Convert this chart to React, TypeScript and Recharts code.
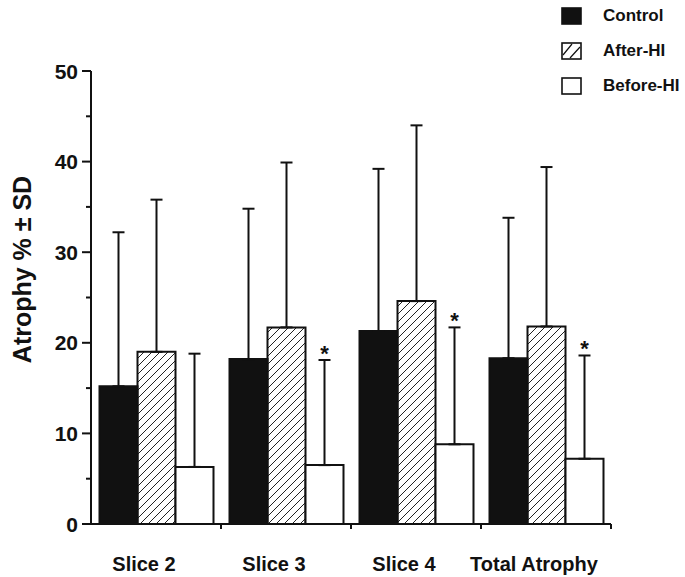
import { Bar, ComposedChart, ErrorBar, LabelList, Legend, XAxis, YAxis } from "recharts";

const categories = ["Slice 2", "Slice 3", "Slice 4", "Total Atrophy"];
const controlMean = [15.2, 18.2, 21.3, 18.3];
const controlSd = [17.0, 16.6, 17.9, 15.5];
const afterMean = [19.0, 21.7, 24.6, 21.8];
const afterSd = [16.8, 18.2, 19.4, 17.6];
const beforeMean = [6.3, 6.5, 8.8, 7.2];
const beforeSd = [12.5, 11.6, 12.9, 11.4];
const significant = [false, true, true, true];
const yTicks = [0, 5, 10, 15, 20, 25, 30, 35, 40, 45, 50];
const seriesNames = ["Control", "After-HI", "Before-HI"];

const FONT = '"Liberation Sans", Arial, Helvetica, sans-serif';
const INK = "#111";

const data = categories.map((name, i) => ({
  name,
  control: controlMean[i],
  controlErr: [0, controlSd[i]],
  after: afterMean[i],
  afterErr: [0, afterSd[i]],
  before: beforeMean[i],
  beforeErr: [0, beforeSd[i]],
}));

function YTick(props: any) {
  const { x, y, payload } = props;
  const major = payload.value % 10 === 0;
  return (
    <g>
      <line x1={x} x2={x - (major ? 9 : 5)} y1={y} y2={y} stroke={INK} strokeWidth={2} />
      {major && (
        <text
          x={x - 13}
          y={y}
          dy="0.36em"
          textAnchor="end"
          fontSize={21}
          fontWeight="bold"
          fontFamily={FONT}
          fill={INK}
        >
          {payload.value}
        </text>
      )}
    </g>
  );
}

function XTick(props: any) {
  const { x, y, payload } = props;
  const half = payload.offset ?? 0;
  return (
    <g>
      <line x1={x + half} x2={x + half} y1={y} y2={y + 5} stroke={INK} strokeWidth={2} />
      <text
        x={x - 12}
        y={y + 47}
        textAnchor="middle"
        fontSize={20}
        fontWeight="bold"
        fontFamily={FONT}
        fill={INK}
      >
        {payload.value}
      </text>
    </g>
  );
}

function YLabel(props: any) {
  const vb = props.viewBox;
  const cx = vb.x + 22;
  const cy = vb.y + vb.height / 2 - 28;
  return (
    <text
      x={cx}
      y={cy}
      transform={`rotate(-90 ${cx} ${cy})`}
      textAnchor="middle"
      dominantBaseline="central"
      fontSize={25}
      fontWeight="bold"
      fontFamily={FONT}
      fill={INK}
    >
      Atrophy % ± SD
    </text>
  );
}

function Star(props: any) {
  const vb = props.viewBox ?? props;
  const i = props.index;
  if (i == null || !significant[i]) return null;
  const pxPerUnit = vb.height / beforeMean[i];
  const capY = vb.y - beforeSd[i] * pxPerUnit;
  return (
    <text
      x={vb.x + vb.width / 2}
      y={capY + 1}
      textAnchor="middle"
      fontSize={22}
      fontWeight="bold"
      fontFamily={FONT}
      fill={INK}
    >
      *
    </text>
  );
}

function Swatch({ kind }: { kind: number }) {
  return (
    <svg width={21} height={18} style={{ display: "block" }}>
      <rect
        x={1}
        y={1}
        width={19}
        height={16}
        fill={kind === 0 ? INK : "#fff"}
        stroke={INK}
        strokeWidth={1.6}
      />
      {kind === 1 && (
        <path d="M2,13 L11,2 M9,16 L19,5" stroke={INK} strokeWidth={1.2} />
      )}
    </svg>
  );
}

function LegendBox() {
  return (
    <div style={{ fontFamily: FONT, fontWeight: "bold", fontSize: 17, color: INK }}>
      {seriesNames.map((n, i) => (
        <div
          key={n}
          style={{ display: "flex", alignItems: "center", height: 35 }}
        >
          <div style={{ width: 42, paddingLeft: 6 }}>
            <Swatch kind={i} />
          </div>
          <span>{n}</span>
        </div>
      ))}
    </div>
  );
}

export default function App() {
  return (
    <div style={{ position: "absolute", left: 0, top: 0, width: 685, height: 577, background: "#fff" }}>
      <ComposedChart
        width={685}
        height={577}
        data={data}
        margin={{ top: 71, right: 74, left: 0, bottom: 0 }}
        barCategoryGap={8.5}
        barGap={0}
      >
        <defs>
          <pattern id="hatch" width={8} height={8} patternUnits="userSpaceOnUse">
            <path d="M-2,2 L2,-2 M0,8 L8,0 M6,10 L10,6" stroke="#222" strokeWidth={1} />
          </pattern>
        </defs>
        <XAxis
          xAxisId="cat"
          dataKey="name"
          height={53}
          tickSize={0}
          tickMargin={0}
          tickLine={false}
          axisLine={{ stroke: INK, strokeWidth: 2 }}
          tick={<XTick />}
          interval={0}
        />
        <YAxis
          width={91}
          domain={[0, 50]}
          ticks={yTicks}
          interval={0}
          tickSize={0}
          tickMargin={0}
          tickLine={false}
          axisLine={{ stroke: INK, strokeWidth: 2 }}
          tick={<YTick />}
          label={<YLabel />}
        />
        <Legend
          layout="vertical"
          align="center"
          verticalAlign="middle"
          wrapperStyle={{ top: -2, left: 555, width: 130 }}
          content={<LegendBox />}
        />
        <Bar
          xAxisId="cat"
          dataKey="control"
          name="Control"
          fill={INK}
          stroke={INK}
          strokeWidth={2}
          isAnimationActive={false}
        >
          <ErrorBar dataKey="controlErr" direction="y" width={6} stroke={INK} strokeWidth={2} />
        </Bar>
        <Bar
          xAxisId="cat"
          dataKey="after"
          name="After-HI"
          fill="url(#hatch)"
          stroke={INK}
          strokeWidth={2}
          isAnimationActive={false}
        >
          <ErrorBar dataKey="afterErr" direction="y" width={6} stroke={INK} strokeWidth={2} />
        </Bar>
        <Bar
          xAxisId="cat"
          dataKey="before"
          name="Before-HI"
          fill="#fff"
          stroke={INK}
          strokeWidth={2}
          isAnimationActive={false}
        >
          <ErrorBar dataKey="beforeErr" direction="y" width={6} stroke={INK} strokeWidth={2} />
          <LabelList dataKey="before" content={<Star />} />
        </Bar>
      </ComposedChart>
    </div>
  );
}
